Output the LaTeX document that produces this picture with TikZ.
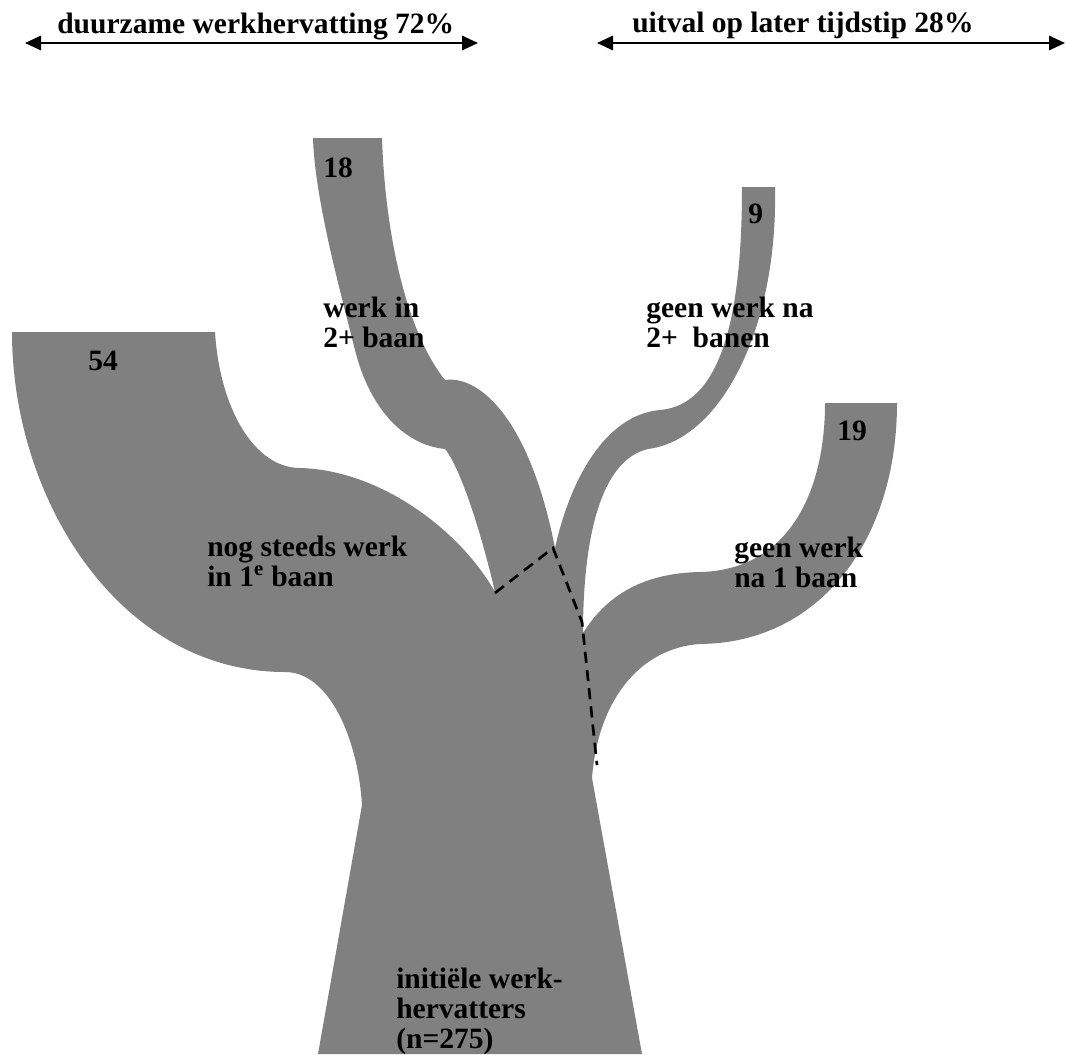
\documentclass[tikz,border=0pt]{standalone}
\usepackage{fontspec}
\setmainfont{Liberation Serif}
\usetikzlibrary{arrows.meta}
\usetikzlibrary{positioning}

\definecolor{treegray}{RGB}{128,128,128}

\tikzset {
  % grey body of the tree
  tree part/.style = {
    fill = treegray,
    draw = none
  },
  % bold text on and round the tree
  tree label/.style = {
    font = \fontsize{21}{21.3}\selectfont\bfseries,
    inner sep = 0,
    anchor = base west,
    align = left
  },
  % double arrow over each group
  span arrow/.style = {
    draw = black,
    line width = 1.4pt,
    >={Triangle[length=0.4cm,width=0.36cm]},
    <->
  },
  % border between the groups
  split line/.style = {
    draw = black,
    line width = 1.9pt,
    dash pattern = on 8pt off 5pt
  }
}

\begin{document}
\begin{tikzpicture}[x=0.025cm, y=-0.025cm]
    \useasboundingbox (0,0) rectangle (1066,1054);

    % arrows on top
    \coordinate (lasting left) at (25,43);
    \coordinate (lasting right) at (478,43);
    \coordinate (dropout left) at (597,43);
    \coordinate (dropout right) at (1065,43);

    \node[tree label] (lasting) at (57,33) {duurzame werkhervatting 72\%};
    \node[tree label] (dropout) at (632,32) {uitval op later tijdstip 28\%};

    \draw[span arrow] (lasting left) -- (lasting right);
    \draw[span arrow] (dropout left) -- (dropout right);

    % trunk and branches
    \fill[tree part]
      (318,1054) -- (362,805)
      .. controls (358,740) and (330,672) .. (285,672)
      .. controls (120,672) and (12,500) .. (12,332)
      -- (215,332)
      .. controls (220,410) and (255,468) .. (300,468)
      .. controls (380,470) and (460,530) .. (495,592)
      .. controls (483,540) and (462,470) .. (445,449)
      .. controls (405,445) and (370,410) .. (355,350)
      .. controls (340,290) and (315,200) .. (313,138)
      -- (382,138)
      .. controls (385,230) and (405,330) .. (445,380)
      .. controls (480,375) and (530,420) .. (555,548)
      .. controls (570,480) and (605,415) .. (660,410)
      .. controls (720,405) and (742,320) .. (742,187)
      -- (775,187)
      .. controls (778,330) and (720,440) .. (648,449)
      .. controls (600,460) and (583,540) .. (583,633)
      .. controls (610,590) and (650,573) .. (700,572)
      .. controls (790,570) and (825,490) .. (825,403)
      -- (897,403)
      .. controls (897,540) and (820,643) .. (700,644)
      .. controls (640,648) and (598,700) .. (592,778)
      -- (642,1054) -- cycle;

    % dashed border
    \coordinate (split a) at (495,593);
    \coordinate (split b) at (553,548);
    \coordinate (split c) at (582,622);
    \coordinate (split d) at (597,765);

    \draw[split line] (split a) -- (split b) -- (split c) -- (split d);

    % labels (base = last line)
    \node[tree label] (n18) at (323,177) {18};
    \node[tree label] (second job) at (323,347) {werk in\\2+ baan};

    \node[tree label] (n54) at (88,370) {54};
    \node[tree label] (first job) at (207,586) {nog steeds werk\\in 1\textsuperscript{e} baan};

    \node[tree label] (n9) at (748,223) {9};
    \node[tree label] (no work more) at (646,347) {geen werk na\\2+\ \ banen};

    \node[tree label] (n19) at (837,440) {19};
    \node[tree label] (no work one) at (734,587) {geen werk\\na 1 baan};

    \node[tree label] (start) at (396,1048) {initiële werk-\\hervatters\\(n=275)};
\end{tikzpicture}
\end{document}
